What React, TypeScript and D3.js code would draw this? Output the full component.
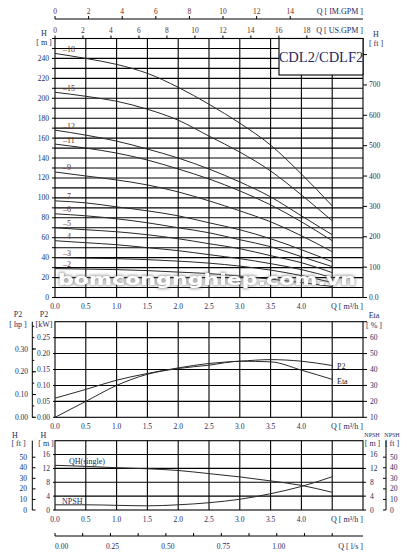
import * as d3 from "d3";

const W = 407;
const H = 555;
const serif = "'Liberation Serif', 'Times New Roman', serif";
const navy = "#1d2b5e";
const brown = "#6e2b1b";

// flow points, m3/h
const flow = [0, 0.5, 1.0, 1.5, 2.0, 2.5, 3.0, 3.5, 4.0, 4.5];

// head per pump (m)
const head18 = [245, 240, 234, 225, 211, 194, 175, 153, 124, 92];
const head15 = [206, 202, 197, 189, 178, 162, 146, 127, 103, 77];
const head12 = [168, 163, 157, 149, 140, 129, 116, 101, 82, 63];
const head11 = [154, 150, 145, 138, 129, 119, 107, 93, 76, 57];
const head9 = [126, 122, 118, 113, 106, 97, 87, 76, 62, 46];
const head7 = [97, 95, 91, 87, 82, 75, 68, 59, 48, 36];
const head6 = [84, 82, 79, 75, 70, 65, 58, 51, 41, 31];
const head5 = [70, 68, 66, 63, 59, 54, 49, 42, 35, 25];
const head4 = [57, 55, 53, 50, 47, 43, 39, 34, 28, 20];
const head3 = [40, 39.5, 39, 38, 36.5, 34.5, 31.5, 27.5, 22, 15];
const head2 = [29, 28.5, 28, 27, 25.5, 24, 21.5, 18.5, 15, 11];

const stageNames = ["18", "15", "12", "11", "9", "7", "6", "5", "4", "3", "2"];
const stageHeads = [head18, head15, head12, head11, head9, head7, head6, head5, head4, head3, head2];

// power / efficiency
const p2kW = [0.06, 0.0875, 0.1165, 0.1375, 0.155, 0.169, 0.176, 0.181, 0.176, 0.1625];
const etaPct = [10, 20, 30, 37, 40.6, 42.7, 45.2, 44.8, 39.6, 33.8];

// single stage + NPSH
const qhSingle = [12.9, 12.6, 12.2, 11.9, 11.4, 10.5, 9.55, 8.4, 7.1, 5.1];
const npsh = [1.5, 1.5, 1.35, 1.2, 1.5, 2.1, 3.1, 4.7, 6.8, 9.6];

// ticks
const qTicks = [0, 0.5, 1.0, 1.5, 2.0, 2.5, 3.0, 3.5, 4.0];
const qGrid = [0.5, 1.0, 1.5, 2.0, 2.5, 3.0, 3.5, 4.0, 4.5];
const usGpmTicks = [0, 2, 4, 6, 8, 10, 12, 14, 16, 18];
const imGpmTicks = [0, 2, 4, 6, 8, 10, 12, 14];
const mainHTicks = [0, 20, 40, 60, 80, 100, 120, 140, 160, 180, 200, 220, 240];
const mainHGrid = d3.range(10, 260, 10);
const mainFtTicks = [0, 100, 200, 300, 400, 500, 600, 700, 800];
const kwTicks = [0, 0.05, 0.1, 0.15, 0.2, 0.25];
const hpTicks = [0, 0.1, 0.2, 0.3];
const etaTicks = [10, 20, 30, 40, 50, 60];
const smallMTicks = [0, 4, 8, 12, 16];
const smallFtTicks = [0, 10, 20, 30, 40, 50];
const lsTicks = [0, 0.125, 0.25, 0.375, 0.5, 0.625, 0.75, 0.875, 1.0, 1.125, 1.25];
const lsLabels = [0, 0.25, 0.5, 0.75, 1.0];

const X0 = 55;
const X1 = 363;

export default function App() {
  const x = d3.scaleLinear().domain([0, 5]).range([X0, X1]);
  const xUs = d3.scaleLinear().domain([0, 5 * 4.4029]).range([X0, X1]);
  const xIm = d3.scaleLinear().domain([0, 5 * 3.6662]).range([X0, X1]);
  const xLs = d3.scaleLinear().domain([0, 5 / 3.6]).range([X0, X1]);

  const yMain = d3.scaleLinear().domain([0, 260]).range([297.5, 38.5]);
  const yMainFt = d3.scaleLinear().domain([0, 260 * 3.2808]).range([297.5, 38.5]);
  const yKw = d3.scaleLinear().domain([0, 0.3]).range([417.3, 321.7]);
  const yHp = d3.scaleLinear().domain([0, 0.42]).range([417.3, 321.7]);
  const yEta = d3.scaleLinear().domain([10, 70]).range([417.3, 321.7]);
  const ySm = d3.scaleLinear().domain([0, 20]).range([510, 440.7]);
  const ySmFt = d3.scaleLinear().domain([0, 20 * 3.2808]).range([510, 440.7]);

  const path = (vals: number[], ys: d3.ScaleLinear<number, number>) =>
    d3.line<number>().x((_, i) => x(flow[i])).y((d) => ys(d)).curve(d3.curveMonotoneX)(vals) || "";

  const tick = { fontFamily: serif, fontSize: 7.5, fill: navy } as const;
  const unit = { fontFamily: serif, fontSize: 8, fill: navy } as const;
  const grid = { stroke: "#000", strokeWidth: 1.1 } as const;
  const curve = { fill: "none", stroke: "#2a2a2a", strokeWidth: 1 } as const;

  const qAxisLabels = (y: number) => (
    <g>
      {qTicks.map((q) => (
        <text key={q} x={x(q)} y={y} textAnchor="middle" dominantBaseline="central" {...tick}>
          {q.toFixed(1)}
        </text>
      ))}
      <text x={X1} y={y} textAnchor="end" dominantBaseline="central" {...unit}>
        Q  [ m³/h ]
      </text>
    </g>
  );

  return (
    <svg width={W} height={H} viewBox={`0 0 ${W} ${H}`} style={{ position: "absolute", left: 0, top: 0, background: "#fff" }}>
      <defs>
        <filter id="wm" x="-5%" y="-40%" width="110%" height="180%">
          <feMorphology in="SourceAlpha" operator="dilate" radius="1.2" result="d" />
          <feGaussianBlur in="d" stdDeviation="1.5" result="b" />
          <feFlood floodColor="#6a6a6a" floodOpacity="0.6" />
          <feComposite in2="b" operator="in" result="s" />
          <feMerge>
            <feMergeNode in="s" />
            <feMergeNode in="SourceGraphic" />
          </feMerge>
        </filter>
      </defs>

      {/* IM.GPM axis */}
      <line x1={X0} x2={X1} y1={19} y2={19} stroke="#000" strokeWidth={1} />
      {imGpmTicks.map((g) => (
        <g key={g}>
          <line x1={xIm(g)} x2={xIm(g)} y1={19} y2={16} stroke="#000" />
          <text x={xIm(g)} y={11} textAnchor="middle" dominantBaseline="central" {...tick} fill={brown}>
            {g}
          </text>
        </g>
      ))}
      <text x={X1} y={11} textAnchor="end" dominantBaseline="central" {...unit}>
        Q  [ IM.GPM ]
      </text>

      {/* US.GPM axis */}
      {usGpmTicks.map((g) => (
        <g key={g}>
          <line x1={xUs(g)} x2={xUs(g)} y1={38.5} y2={35.5} stroke="#000" />
          <text x={xUs(g)} y={30} textAnchor="middle" dominantBaseline="central" {...tick} fill={brown}>
            {g}
          </text>
        </g>
      ))}
      <text x={X1} y={30} textAnchor="end" dominantBaseline="central" {...unit}>
        Q  [ US.GPM ]
      </text>

      {/* main chart */}
      <text x={44} y={33} textAnchor="middle" dominantBaseline="central" {...unit}>H</text>
      <text x={44} y={42} textAnchor="middle" dominantBaseline="central" {...unit}>[ m ]</text>
      <text x={376} y={34} textAnchor="middle" dominantBaseline="central" {...unit}>H</text>
      <text x={376} y={43} textAnchor="middle" dominantBaseline="central" {...unit}>[ ft ]</text>

      {mainHGrid.map((h) => (
        <line key={h} x1={X0} x2={X1} y1={yMain(h)} y2={yMain(h)} {...grid} />
      ))}
      {qGrid.map((q) => (
        <line key={q} x1={x(q)} x2={x(q)} y1={yMain(260)} y2={yMain(0)} {...grid} />
      ))}
      <rect x={X0} y={yMain(260)} width={X1 - X0} height={yMain(0) - yMain(260)} fill="none" stroke="#000" strokeWidth={1.1} />
      {mainHGrid.concat([0, 260]).map((h) => (
        <line key={"t" + h} x1={X0 - 3} x2={X0} y1={yMain(h)} y2={yMain(h)} stroke="#000" />
      ))}
      {mainHTicks.map((h) => (
        <text key={h} x={49} y={yMain(h)} textAnchor="end" dominantBaseline="central" {...tick}>
          {h}
        </text>
      ))}
      {mainFtTicks.map((f) => (
        <g key={f}>
          <line x1={X1} x2={X1 + 4} y1={yMainFt(f)} y2={yMainFt(f)} stroke="#000" />
          {f < 800 && (
            <text x={369} y={yMainFt(f)} dominantBaseline="central" {...tick}>
              {f === 0 ? "0.0" : f}
            </text>
          )}
        </g>
      ))}

      {/* model box */}
      <rect x={279} y={38.5} width={X1 - 279} height={36.5} fill="#fff" stroke="#000" strokeWidth={1.1} />
      <text x={321} y={57} textAnchor="middle" dominantBaseline="central" fontFamily={serif} fontSize={14.5} fill={navy}>
        CDL2/CDLF2
      </text>

      {stageHeads.map((hs, i) => (
        <g key={stageNames[i]}>
          <path d={path(hs, yMain)} {...curve} />
          <text x={63} y={yMain(hs[0]) - 4} dominantBaseline="central" fontFamily={serif} fontSize={8} fill={brown}>
            {"–" + stageNames[i]}
          </text>
        </g>
      ))}

      <text
        x={58}
        y={284.5}
        textLength={298}
        lengthAdjust="spacingAndGlyphs"
        fontFamily="'DejaVu Sans', sans-serif"
        fontWeight="bold"
        fontSize={16}
        fill="#fff"
        filter="url(#wm)"
      >
        bomcongnghiep.com.vn
      </text>

      {qAxisLabels(306.5)}

      {/* power / efficiency chart */}
      <text x={18} y={314} textAnchor="middle" dominantBaseline="central" {...unit}>P2</text>
      <text x={18} y={324.5} textAnchor="middle" dominantBaseline="central" {...unit}>[ hp ]</text>
      <text x={44} y={314} textAnchor="middle" dominantBaseline="central" {...unit}>P2</text>
      <text x={44} y={324.5} textAnchor="middle" dominantBaseline="central" {...unit}>[kW]</text>
      <text x={374} y={315} textAnchor="middle" dominantBaseline="central" {...unit}>Eta</text>
      <text x={374} y={325} textAnchor="middle" dominantBaseline="central" {...unit}>[ % ]</text>

      {kwTicks.slice(1).map((k) => (
        <line key={k} x1={X0} x2={X1} y1={yKw(k)} y2={yKw(k)} {...grid} />
      ))}
      {qGrid.map((q) => (
        <line key={q} x1={x(q)} x2={x(q)} y1={yKw(0.3)} y2={yKw(0)} {...grid} />
      ))}
      <rect x={X0} y={yKw(0.3)} width={X1 - X0} height={yKw(0) - yKw(0.3)} fill="none" stroke="#000" strokeWidth={1.1} />
      {kwTicks.map((k) => (
        <g key={k}>
          <line x1={X0 - 2} x2={X0} y1={yKw(k)} y2={yKw(k)} stroke="#000" />
          <text x={50} y={yKw(k)} textAnchor="end" dominantBaseline="central" {...tick}>
            {k.toFixed(2)}
          </text>
        </g>
      ))}
      <line x1={32.3} x2={32.3} y1={yHp(0.42)} y2={yHp(0)} stroke="#000" />
      {d3.range(0, 0.42, 0.05).map((h) => (
        <line key={h} x1={32.3} x2={34.3} y1={yHp(h)} y2={yHp(h)} stroke="#000" />
      ))}
      {hpTicks.map((h) => (
        <g key={h}>
          <line x1={32.3} x2={36} y1={yHp(h)} y2={yHp(h)} stroke="#000" />
          <text x={28} y={yHp(h)} textAnchor="end" dominantBaseline="central" {...tick}>
            {h.toFixed(2)}
          </text>
        </g>
      ))}
      {etaTicks.concat([70]).map((e) => (
        <g key={e}>
          <line x1={X1} x2={X1 + 4} y1={yEta(e)} y2={yEta(e)} stroke="#000" />
          {e < 70 && (
            <text x={370} y={yEta(e)} dominantBaseline="central" {...tick}>
              {e}
            </text>
          )}
        </g>
      ))}
      <path d={path(p2kW, yKw)} {...curve} />
      <path d={path(etaPct, yEta)} {...curve} />
      <text x={337} y={366} dominantBaseline="central" fontFamily={serif} fontSize={8} fill="#222">P2</text>
      <text x={337} y={381} dominantBaseline="central" fontFamily={serif} fontSize={8} fill="#222">Eta</text>

      {qAxisLabels(426)}

      {/* single stage / NPSH chart */}
      <text x={15} y={435} textAnchor="middle" dominantBaseline="central" {...unit}>H</text>
      <text x={18.5} y={443.5} textAnchor="middle" dominantBaseline="central" {...unit}>[ ft ]</text>
      <text x={43.5} y={435} textAnchor="middle" dominantBaseline="central" {...unit}>H</text>
      <text x={46} y={443.5} textAnchor="middle" dominantBaseline="central" {...unit}>[ m ]</text>
      <text x={372} y={435} textAnchor="middle" dominantBaseline="central" {...unit} fontSize={6}>NPSH</text>
      <text x={372.5} y={443.5} textAnchor="middle" dominantBaseline="central" {...unit}>[ m ]</text>
      <text x={392} y={435} textAnchor="middle" dominantBaseline="central" {...unit} fontSize={6}>NPSH</text>
      <text x={392} y={443.5} textAnchor="middle" dominantBaseline="central" {...unit}>[ ft ]</text>

      {smallMTicks.slice(1).map((m) => (
        <line key={m} x1={X0} x2={X1} y1={ySm(m)} y2={ySm(m)} {...grid} />
      ))}
      {qGrid.map((q) => (
        <line key={q} x1={x(q)} x2={x(q)} y1={ySm(20)} y2={ySm(0)} {...grid} />
      ))}
      <rect x={X0} y={ySm(20)} width={X1 - X0} height={ySm(0) - ySm(20)} fill="none" stroke="#000" strokeWidth={1.1} />
      {smallMTicks.map((m) => (
        <g key={m}>
          <line x1={X0 - 2} x2={X0} y1={ySm(m)} y2={ySm(m)} stroke="#000" />
          <text x={50} y={ySm(m)} textAnchor="end" dominantBaseline="central" {...tick}>
            {m}
          </text>
          <line x1={X1} x2={X1 + 3} y1={ySm(m)} y2={ySm(m)} stroke="#000" />
          <text x={370} y={ySm(m)} dominantBaseline="central" {...tick}>
            {m}
          </text>
        </g>
      ))}
      <line x1={32.3} x2={32.3} y1={ySm(20)} y2={ySm(0)} stroke="#000" />
      <line x1={386} x2={386} y1={ySm(20)} y2={ySm(0)} stroke="#000" />
      {smallFtTicks.map((f) => (
        <g key={f}>
          <line x1={32.3} x2={35.5} y1={ySmFt(f)} y2={ySmFt(f)} stroke="#000" />
          <text x={27} y={ySmFt(f)} textAnchor="end" dominantBaseline="central" {...tick}>
            {f}
          </text>
          <line x1={383} x2={386} y1={ySmFt(f)} y2={ySmFt(f)} stroke="#000" />
          <text x={390} y={ySmFt(f)} dominantBaseline="central" {...tick}>
            {f}
          </text>
        </g>
      ))}
      <path d={path(qhSingle, ySm)} {...curve} />
      <path d={path(npsh, ySm)} {...curve} />
      <text x={69} y={461.5} dominantBaseline="central" fontFamily={serif} fontSize={8} fill={navy}>QH(single)</text>
      <text x={62} y={501} dominantBaseline="central" fontFamily={serif} fontSize={8} fill={navy}>NPSH</text>

      {qAxisLabels(519)}

      {/* l/s axis */}
      <line x1={X0} x2={X1} y1={536} y2={536} stroke="#000" strokeWidth={1} />
      {lsTicks.map((l) => (
        <line key={l} x1={xLs(l)} x2={xLs(l)} y1={536} y2={533} stroke="#000" />
      ))}
      {lsLabels.map((l) => (
        <text key={l} x={l === 0 ? X0 : xLs(l) + 2} y={546} textAnchor={l === 0 ? "start" : "middle"} dominantBaseline="central" {...tick}>
          {l.toFixed(2)}
        </text>
      ))}
      <text x={X1} y={546} textAnchor="end" dominantBaseline="central" {...unit}>
        Q  [ l/s ]
      </text>
    </svg>
  );
}
